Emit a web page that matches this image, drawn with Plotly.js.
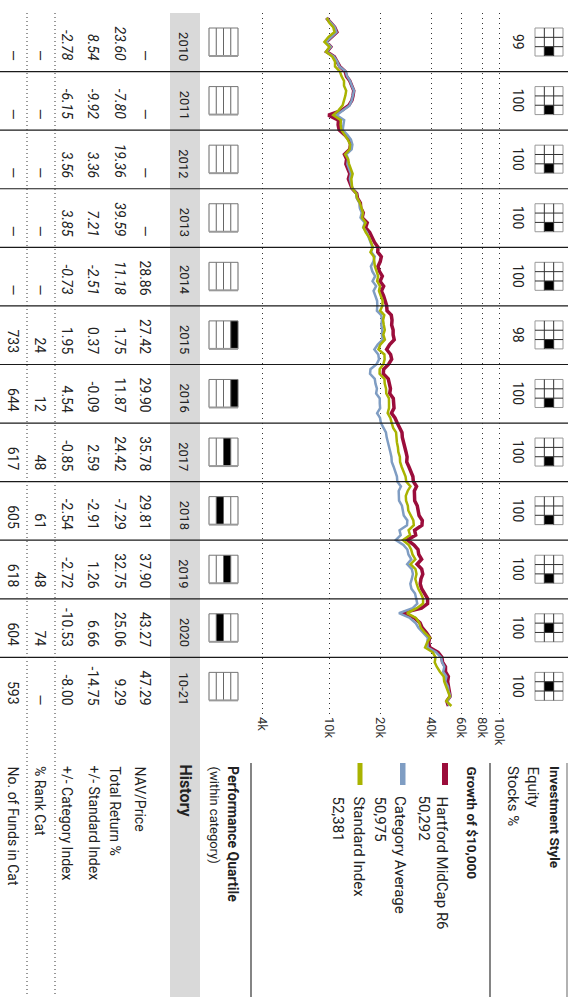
<!DOCTYPE html>
<html><head><meta charset="utf-8">
<script src="https://cdn.plot.ly/plotly-3.0.1.min.js"></script>
<style>html,body{margin:0;padding:0;background:#fff;overflow:hidden}</style>
</head><body><div id="chart" style="width:571px;height:997px"></div>
<script>
// ---------------- DATA ----------------
const columnLabels = ['2010','2011','2012','2013','2014','2015','2016','2017','2018','2019','2020','10-21'];
const stocksPct = ['99','100','100','100','100','98','100','100','100','100','100','100'];
const styleSize = ['Mid','Mid','Mid','Mid','Mid','Mid','Mid','Mid','Mid','Mid','Mid','Mid'];
const styleKind = ['Growth','Growth','Growth','Growth','Growth','Growth','Growth','Growth','Growth','Growth','Blend','Blend'];
const quartile = [null,null,null,null,null,1,1,2,3,2,3,null];
const navPrice = ['—','—','—','—','28.86','27.42','29.90','35.78','29.81','37.90','43.27','47.29'];
const totalReturn = ['23.60','-7.80','19.36','39.59','11.18','1.75','11.87','24.42','-7.29','32.75','25.06','9.29'];
const vsStandard = ['8.54','-9.92','3.36','7.21','-2.51','0.37','-0.09','2.59','-2.91','1.26','6.66','-14.75'];
const vsCategory = ['-2.78','-6.15','3.56','3.85','-0.73','1.95','4.54','-0.85','-2.54','-2.72','-10.53','-8.00'];
const rankCat = ['—','—','—','—','—','24','12','48','61','48','74','—'];
const fundsInCat = ['—','—','—','—','—','733','644','617','605','618','604','593'];
const extendedCols = 5; // 2010-2014 shown in italics (extended performance)

const rowLabels = ['NAV/Price','Total Return %','+/- Standard Index','+/- Category Index','% Rank Cat','No. of Funds in Cat'];
const legendNames = ['Hartford MidCap R6','Category Average','Standard Index'];
const legendEnd = ['50,292','50,975','52,381'];
const tickVals = [4000,10000,20000,40000,60000,80000,100000];
const tickText = ['4k','10k','20k','40k','60k','80k','100k'];

// monthly growth of $10,000, Jan 2010 .. Oct 2021
const fundGrowth = [
9600,10080,10735,11057,10228,9563,10185,9625,10683,11164,11499,12361,
12608,13175,13571,13910,13771,13565,13000,11800,9850,11300,11250,11396,
12308,13046,13307,13174,12252,12620,12494,12868,13190,12926,13185,13607,
14486,14631,15216,15292,15827,15590,16700,16330,17280,17850,18420,19330,
19264,20227,19923,19326,19712,20501,19886,20880,20254,20862,21383,21746,
21847,23159,23390,23273,23739,23739,24095,22649,21743,22939,23284,22338,
20874,20770,22224,22447,22895,22666,23800,23919,24038,23197,24357,25112,
25991,26771,26905,27443,27854,28272,28697,28554,29410,30145,31050,31242,
32648,31668,31668,31826,32940,33270,33769,35288,35111,31776,32252,28827,
31547,33282,33615,34959,32862,34998,35524,34636,34290,34976,36550,37902,
37909,34910,26600,31675,34209,35235,37349,39030,38445,39022,43705,46021,
46477,48336,48336,50269,49767,50513,50766,51527,49208,50292];
const categoryGrowth = [
9600,10080,10735,11003,10178,9567,10189,9578,10631,11110,11443,12461,
12710,13218,13549,13955,13746,13540,13133,12083,10995,12205,12144,11968,
12746,13383,13651,13514,12568,12882,12754,13136,13399,13198,13396,13652,
14400,14520,15050,15100,15500,15250,16150,15800,16600,17050,17500,17900,
17650,18500,18150,17550,17900,18600,17950,18850,18200,18750,19100,19150,
19050,20200,20400,20200,20500,20400,20600,19250,18400,19400,19600,18960,
17450,17350,18500,18680,19050,18850,19800,19800,19900,19100,19870,20100,
20900,21530,21750,22180,22630,22850,23200,23310,23900,24500,25000,25130,
26390,25600,25600,25730,26760,27030,27430,28800,28660,25900,26300,24600,
27300,28800,29230,30400,28730,30600,31060,30600,29990,30440,31960,32470,
32950,30970,25700,29810,32200,33490,35830,37980,37790,37980,42540,45500,
46180,47570,46860,48970,48230,49920,50420,51680,49350,50975];
const indexGrowth = [
9640,9939,10535,10704,9848,9336,9989,9540,10389,10784,10784,11506,
11782,12183,12183,12548,12410,12199,11955,11309,10518,11664,11641,11749,
12286,12814,13237,13158,12368,12875,13055,13355,13702,13456,13536,13629,
14368,14569,15123,15410,15765,15560,16353,15879,16371,17124,17638,18043,
17446,18249,18395,18524,18968,19366,19095,19859,19581,20051,20592,20513,
19914,21049,20712,20920,21192,20789,21226,19952,19453,21087,21150,20796,
19771,19752,21095,21180,21561,21625,22425,22448,22448,22044,22860,23283,
23760,24710,24735,24983,25332,25484,26020,26098,26646,27259,28104,28366,
30032,28921,28198,28311,28990,29164,30243,31241,31428,29291,29877,27124,
29363,30303,30879,32114,30058,32162,32612,32090,32700,33419,34622,35665,
35661,32737,28678,32349,33902,34580,36516,39145,37657,36640,40634,42227,
41756,42925,44814,47189,47519,48612,49779,51272,48862,52381];

// month-end dates (calendar index for the series above)
const dates = [];
for (let y = 2010; y <= 2021; y++) {
  for (let m = 1; m <= 12; m++) {
    if (y === 2021 && m > 10) break;
    const d = new Date(Date.UTC(y, m, 0)).getUTCDate();
    dates.push(y + '-' + String(m).padStart(2,'0') + '-' + d);
  }
}

// ---------------- LAYOUT HELPERS ----------------
const W = 571, H = 997;
const px = X => X / W, py = Y => 1 - Y / H;
const COL0 = 13, COLW = 58.58, NCOL = columnLabels.length;
const FONT = 'Roboto, "Noto Sans", sans-serif';
const INK = '#222';
const shapes = [], annotations = [];
function line(x0,y0,x1,y1,color,width,dash){
  shapes.push({type:'line',xref:'paper',yref:'paper',x0:px(x0),y0:py(y0),x1:px(x1),y1:py(y1),
    line:{color:color,width:width,dash:dash||'solid'},layer:'above'});
}
function rect(x0,y0,x1,y1,fill,lc,lw,layer){
  shapes.push({type:'rect',xref:'paper',yref:'paper',x0:px(x0),y0:py(y1),x1:px(x1),y1:py(y0),
    fillcolor:fill||'rgba(0,0,0,0)',line:{color:lc||'rgba(0,0,0,0)',width:lw||0},layer:layer||'above'});
}
function txt(X,Y,s,anchor,size,opts){
  opts = opts||{};
  annotations.push({xref:'paper',yref:'paper',x:px(X),y:py(Y),text:s,showarrow:false,textangle:90,
    xanchor:'center',yanchor:anchor,align:'left',borderpad:0,
    font:{family:FONT,size:size,color:opts.color||INK}});
}

// gray History band
rect(170,COL0,200,H,'#d9d9d9',null,0,'below');

// column separators
for (let i = 1; i < NCOL; i++) {
  const Y = COL0 + i*COLW;
  line(0,Y,568,Y,'#1a1a1a',1.2);
}
// dotted row separators in history table
line(27,COL0,27,H,'#333',1,'1px,3px');
line(55,COL0,55,H,'#333',1,'1px,3px');

// label-column rules
line(567,763,567,H,'#999',1.5);
line(490,763,490,H,'#333',1.2);
line(251,763,251,H,'#333',1.2);

// per-column content
const rowX = [145,120,93,67,40,13];
const rowVals = [navPrice,totalReturn,vsStandard,vsCategory,rankCat,fundsInCat];
for (let i = 0; i < NCOL; i++) {
  const c0 = COL0 + i*COLW, cEnd = c0 + COLW;
  txt(184, cEnd-10, columnLabels[i], 'bottom', 13);
  for (let r = 0; r < rowVals.length; r++) {
    let v = rowVals[r][i];
    if (i < extendedCols && r >= 1 && r <= 3) v = '<i>' + v + '</i>';
    txt(rowX[r], cEnd-10, v, 'bottom', 14);
  }
  // style box 3x3
  const bY = c0 + 15, bS = 28, cell = bS/3, bX1 = 563;
  const sr = ['Large','Mid','Small'].indexOf(styleSize[i]);
  const sc = ['Value','Blend','Growth'].indexOf(styleKind[i]);
  rect(bX1-(sr+1)*cell, bY+sc*cell, bX1-sr*cell, bY+(sc+1)*cell, '#000', null, 0);
  rect(bX1-bS, bY, bX1, bY+bS, null, '#999', 1);
  for (let k = 1; k < 3; k++) {
    line(bX1-k*cell, bY, bX1-k*cell, bY+bS, '#333', 1);
    line(bX1-bS, bY+k*cell, bX1, bY+k*cell, '#333', 1);
  }
  txt(518, bY+bS/2, stocksPct[i], 'middle', 14);
  // quartile box
  const qX0 = 209, qX1 = 238, qs = (qX1-qX0)/4;
  if (quartile[i]) {
    const q = quartile[i];
    rect(qX1-q*qs, bY, qX1-(q-1)*qs, bY+bS, '#000', null, 0);
  }
  for (let k = 0; k <= 4; k++) line(qX0+k*qs, bY, qX0+k*qs, bY+bS, '#666', 1);
  line(qX0, bY, qX1, bY, '#777', 1);
  line(qX0, bY+bS, qX1, bY+bS, '#999', 2);
}

// label column texts
const LY = 765;
txt(555, LY, '<b>Investment Style</b>', 'top', 13.5);
txt(533, LY, 'Equity', 'top', 15);
txt(513, LY, 'Stocks %', 'top', 15);
txt(472, LY, '<b>Growth of $10,000</b>', 'top', 13.5);
const legColors = ['#9b0d3b','#7f9dc3','#a9b300'];
const legX = [442,400,359], legX2 = [424,380,338], barX = [[442,448],[400,405.5],[357.5,362.5]];
for (let k = 0; k < 3; k++) {
  rect(barX[k][0],763,barX[k][1],785,legColors[k],null,0);
  txt(legX[k], 795, legendNames[k], 'top', 15);
  txt(legX2[k], 795, legendEnd[k], 'top', 15);
}
txt(233, LY, '<b>Performance Quartile</b>', 'top', 14);
txt(214, LY, '(within category)', 'top', 13);
txt(185, 763, '<b>History</b>', 'top', 16);
const labX = [140,115,94,67,40,13];
for (let r = 0; r < rowLabels.length; r++) txt(labX[r], LY, rowLabels[r], 'top', 14);

// ---------------- PLOT ----------------
const K = 169.54, L4 = Math.log10(4000);
const XA = 230, XB = 520;
const traces = [
  {x:fundGrowth, y:dates, type:'scatter', mode:'lines', name:legendNames[0], line:{color:legColors[0], width:3.5}, hoverinfo:'skip'},
  {x:categoryGrowth, y:dates, type:'scatter', mode:'lines', name:legendNames[1], line:{color:legColors[1], width:2.5}, hoverinfo:'skip'},
  {x:indexGrowth, y:dates, type:'scatter', mode:'lines', name:legendNames[2], line:{color:legColors[2], width:2.5}, hoverinfo:'skip'}
];
const layout = {
  width: W, height: H, margin:{l:0,r:0,t:0,b:0,pad:0},
  paper_bgcolor:'#fff', plot_bgcolor:'rgba(0,0,0,0)', showlegend:false,
  xaxis:{type:'log', domain:[px(XA), px(XB)],
    range:[L4 + (XA-262)/K, L4 + (XB-262)/K],
    tickvals:tickVals, ticktext:tickText, tickangle:90, ticks:'',
    showgrid:true, gridcolor:'#333', gridwidth:1, griddash:'1px,4px',
    zeroline:false, showline:false, fixedrange:true,
    tickfont:{family:FONT, size:13, color:'#333'}},
  yaxis:{type:'date', domain:[py(COL0+NCOL*COLW), py(COL0)],
    range:['2022-01-01','2010-01-01'], showgrid:false, showticklabels:false,
    zeroline:false, showline:false, ticks:'', fixedrange:true},
  shapes: shapes, annotations: annotations
};
Plotly.newPlot('chart', traces, layout, {staticPlot:true, displayModeBar:false});
</script></body></html>
